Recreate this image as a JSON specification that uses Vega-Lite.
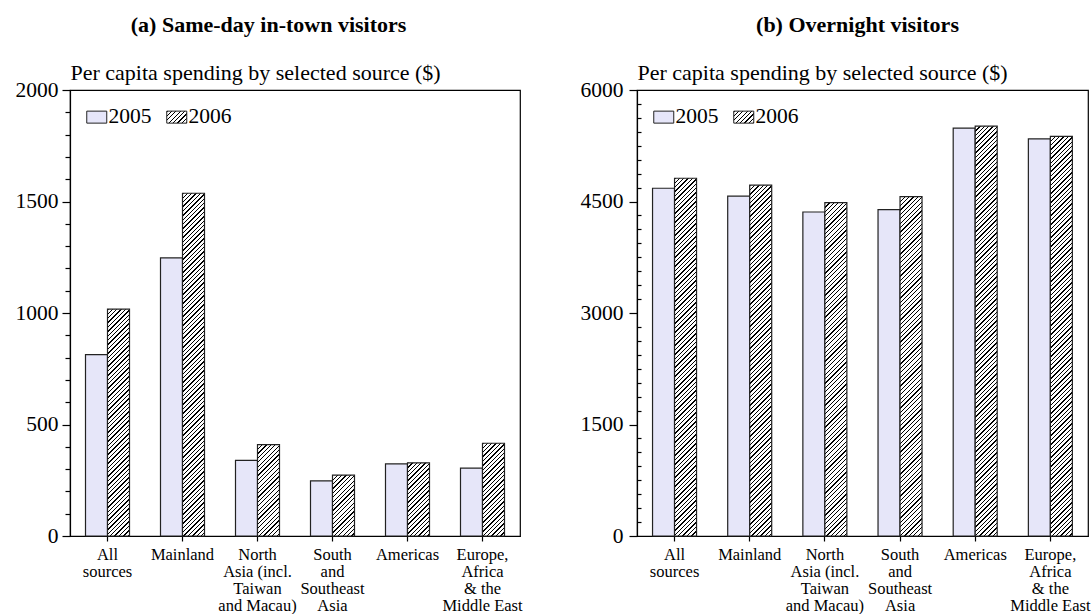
{
  "$schema": "https://vega.github.io/schema/vega-lite/v6.json",
  "padding": {"left": 14, "top": 13, "right": 2, "bottom": 0},
  "params": [
    {"name": "hatch", "value": [
{"offset":0,"color":"#000"},{"offset":0.003,"color":"#000"},{"offset":0.003,"color":"#fff"},{"offset":0.01,"color":"#fff"},
{"offset":0.01,"color":"#000"},{"offset":0.013,"color":"#000"},{"offset":0.013,"color":"#fff"},{"offset":0.02,"color":"#fff"},
{"offset":0.02,"color":"#000"},{"offset":0.023,"color":"#000"},{"offset":0.023,"color":"#fff"},{"offset":0.03,"color":"#fff"},
{"offset":0.03,"color":"#000"},{"offset":0.033,"color":"#000"},{"offset":0.033,"color":"#fff"},{"offset":0.04,"color":"#fff"},
{"offset":0.04,"color":"#000"},{"offset":0.043,"color":"#000"},{"offset":0.043,"color":"#fff"},{"offset":0.05,"color":"#fff"},
{"offset":0.05,"color":"#000"},{"offset":0.053,"color":"#000"},{"offset":0.053,"color":"#fff"},{"offset":0.06,"color":"#fff"},
{"offset":0.06,"color":"#000"},{"offset":0.063,"color":"#000"},{"offset":0.063,"color":"#fff"},{"offset":0.07,"color":"#fff"},
{"offset":0.07,"color":"#000"},{"offset":0.073,"color":"#000"},{"offset":0.073,"color":"#fff"},{"offset":0.08,"color":"#fff"},
{"offset":0.08,"color":"#000"},{"offset":0.083,"color":"#000"},{"offset":0.083,"color":"#fff"},{"offset":0.09,"color":"#fff"},
{"offset":0.09,"color":"#000"},{"offset":0.093,"color":"#000"},{"offset":0.093,"color":"#fff"},{"offset":0.1,"color":"#fff"},
{"offset":0.1,"color":"#000"},{"offset":0.103,"color":"#000"},{"offset":0.103,"color":"#fff"},{"offset":0.11,"color":"#fff"},
{"offset":0.11,"color":"#000"},{"offset":0.113,"color":"#000"},{"offset":0.113,"color":"#fff"},{"offset":0.12,"color":"#fff"},
{"offset":0.12,"color":"#000"},{"offset":0.123,"color":"#000"},{"offset":0.123,"color":"#fff"},{"offset":0.13,"color":"#fff"},
{"offset":0.13,"color":"#000"},{"offset":0.133,"color":"#000"},{"offset":0.133,"color":"#fff"},{"offset":0.14,"color":"#fff"},
{"offset":0.14,"color":"#000"},{"offset":0.143,"color":"#000"},{"offset":0.143,"color":"#fff"},{"offset":0.15,"color":"#fff"},
{"offset":0.15,"color":"#000"},{"offset":0.153,"color":"#000"},{"offset":0.153,"color":"#fff"},{"offset":0.16,"color":"#fff"},
{"offset":0.16,"color":"#000"},{"offset":0.163,"color":"#000"},{"offset":0.163,"color":"#fff"},{"offset":0.17,"color":"#fff"},
{"offset":0.17,"color":"#000"},{"offset":0.173,"color":"#000"},{"offset":0.173,"color":"#fff"},{"offset":0.18,"color":"#fff"},
{"offset":0.18,"color":"#000"},{"offset":0.183,"color":"#000"},{"offset":0.183,"color":"#fff"},{"offset":0.19,"color":"#fff"},
{"offset":0.19,"color":"#000"},{"offset":0.193,"color":"#000"},{"offset":0.193,"color":"#fff"},{"offset":0.2,"color":"#fff"},
{"offset":0.2,"color":"#000"},{"offset":0.203,"color":"#000"},{"offset":0.203,"color":"#fff"},{"offset":0.21,"color":"#fff"},
{"offset":0.21,"color":"#000"},{"offset":0.213,"color":"#000"},{"offset":0.213,"color":"#fff"},{"offset":0.22,"color":"#fff"},
{"offset":0.22,"color":"#000"},{"offset":0.223,"color":"#000"},{"offset":0.223,"color":"#fff"},{"offset":0.23,"color":"#fff"},
{"offset":0.23,"color":"#000"},{"offset":0.233,"color":"#000"},{"offset":0.233,"color":"#fff"},{"offset":0.24,"color":"#fff"},
{"offset":0.24,"color":"#000"},{"offset":0.243,"color":"#000"},{"offset":0.243,"color":"#fff"},{"offset":0.25,"color":"#fff"},
{"offset":0.25,"color":"#000"},{"offset":0.253,"color":"#000"},{"offset":0.253,"color":"#fff"},{"offset":0.26,"color":"#fff"},
{"offset":0.26,"color":"#000"},{"offset":0.263,"color":"#000"},{"offset":0.263,"color":"#fff"},{"offset":0.27,"color":"#fff"},
{"offset":0.27,"color":"#000"},{"offset":0.273,"color":"#000"},{"offset":0.273,"color":"#fff"},{"offset":0.28,"color":"#fff"},
{"offset":0.28,"color":"#000"},{"offset":0.283,"color":"#000"},{"offset":0.283,"color":"#fff"},{"offset":0.29,"color":"#fff"},
{"offset":0.29,"color":"#000"},{"offset":0.293,"color":"#000"},{"offset":0.293,"color":"#fff"},{"offset":0.3,"color":"#fff"},
{"offset":0.3,"color":"#000"},{"offset":0.303,"color":"#000"},{"offset":0.303,"color":"#fff"},{"offset":0.31,"color":"#fff"},
{"offset":0.31,"color":"#000"},{"offset":0.313,"color":"#000"},{"offset":0.313,"color":"#fff"},{"offset":0.32,"color":"#fff"},
{"offset":0.32,"color":"#000"},{"offset":0.323,"color":"#000"},{"offset":0.323,"color":"#fff"},{"offset":0.33,"color":"#fff"},
{"offset":0.33,"color":"#000"},{"offset":0.333,"color":"#000"},{"offset":0.333,"color":"#fff"},{"offset":0.34,"color":"#fff"},
{"offset":0.34,"color":"#000"},{"offset":0.343,"color":"#000"},{"offset":0.343,"color":"#fff"},{"offset":0.35,"color":"#fff"},
{"offset":0.35,"color":"#000"},{"offset":0.353,"color":"#000"},{"offset":0.353,"color":"#fff"},{"offset":0.36,"color":"#fff"},
{"offset":0.36,"color":"#000"},{"offset":0.363,"color":"#000"},{"offset":0.363,"color":"#fff"},{"offset":0.37,"color":"#fff"},
{"offset":0.37,"color":"#000"},{"offset":0.373,"color":"#000"},{"offset":0.373,"color":"#fff"},{"offset":0.38,"color":"#fff"},
{"offset":0.38,"color":"#000"},{"offset":0.383,"color":"#000"},{"offset":0.383,"color":"#fff"},{"offset":0.39,"color":"#fff"},
{"offset":0.39,"color":"#000"},{"offset":0.393,"color":"#000"},{"offset":0.393,"color":"#fff"},{"offset":0.4,"color":"#fff"},
{"offset":0.4,"color":"#000"},{"offset":0.403,"color":"#000"},{"offset":0.403,"color":"#fff"},{"offset":0.41,"color":"#fff"},
{"offset":0.41,"color":"#000"},{"offset":0.413,"color":"#000"},{"offset":0.413,"color":"#fff"},{"offset":0.42,"color":"#fff"},
{"offset":0.42,"color":"#000"},{"offset":0.423,"color":"#000"},{"offset":0.423,"color":"#fff"},{"offset":0.43,"color":"#fff"},
{"offset":0.43,"color":"#000"},{"offset":0.433,"color":"#000"},{"offset":0.433,"color":"#fff"},{"offset":0.44,"color":"#fff"},
{"offset":0.44,"color":"#000"},{"offset":0.443,"color":"#000"},{"offset":0.443,"color":"#fff"},{"offset":0.45,"color":"#fff"},
{"offset":0.45,"color":"#000"},{"offset":0.453,"color":"#000"},{"offset":0.453,"color":"#fff"},{"offset":0.46,"color":"#fff"},
{"offset":0.46,"color":"#000"},{"offset":0.463,"color":"#000"},{"offset":0.463,"color":"#fff"},{"offset":0.47,"color":"#fff"},
{"offset":0.47,"color":"#000"},{"offset":0.473,"color":"#000"},{"offset":0.473,"color":"#fff"},{"offset":0.48,"color":"#fff"},
{"offset":0.48,"color":"#000"},{"offset":0.483,"color":"#000"},{"offset":0.483,"color":"#fff"},{"offset":0.49,"color":"#fff"},
{"offset":0.49,"color":"#000"},{"offset":0.493,"color":"#000"},{"offset":0.493,"color":"#fff"},{"offset":0.5,"color":"#fff"},
{"offset":0.5,"color":"#000"},{"offset":0.503,"color":"#000"},{"offset":0.503,"color":"#fff"},{"offset":0.51,"color":"#fff"},
{"offset":0.51,"color":"#000"},{"offset":0.513,"color":"#000"},{"offset":0.513,"color":"#fff"},{"offset":0.52,"color":"#fff"},
{"offset":0.52,"color":"#000"},{"offset":0.523,"color":"#000"},{"offset":0.523,"color":"#fff"},{"offset":0.53,"color":"#fff"},
{"offset":0.53,"color":"#000"},{"offset":0.533,"color":"#000"},{"offset":0.533,"color":"#fff"},{"offset":0.54,"color":"#fff"},
{"offset":0.54,"color":"#000"},{"offset":0.543,"color":"#000"},{"offset":0.543,"color":"#fff"},{"offset":0.55,"color":"#fff"},
{"offset":0.55,"color":"#000"},{"offset":0.553,"color":"#000"},{"offset":0.553,"color":"#fff"},{"offset":0.56,"color":"#fff"},
{"offset":0.56,"color":"#000"},{"offset":0.563,"color":"#000"},{"offset":0.563,"color":"#fff"},{"offset":0.57,"color":"#fff"},
{"offset":0.57,"color":"#000"},{"offset":0.573,"color":"#000"},{"offset":0.573,"color":"#fff"},{"offset":0.58,"color":"#fff"},
{"offset":0.58,"color":"#000"},{"offset":0.583,"color":"#000"},{"offset":0.583,"color":"#fff"},{"offset":0.59,"color":"#fff"},
{"offset":0.59,"color":"#000"},{"offset":0.593,"color":"#000"},{"offset":0.593,"color":"#fff"},{"offset":0.6,"color":"#fff"},
{"offset":0.6,"color":"#000"},{"offset":0.603,"color":"#000"},{"offset":0.603,"color":"#fff"},{"offset":0.61,"color":"#fff"},
{"offset":0.61,"color":"#000"},{"offset":0.613,"color":"#000"},{"offset":0.613,"color":"#fff"},{"offset":0.62,"color":"#fff"},
{"offset":0.62,"color":"#000"},{"offset":0.623,"color":"#000"},{"offset":0.623,"color":"#fff"},{"offset":0.63,"color":"#fff"},
{"offset":0.63,"color":"#000"},{"offset":0.633,"color":"#000"},{"offset":0.633,"color":"#fff"},{"offset":0.64,"color":"#fff"},
{"offset":0.64,"color":"#000"},{"offset":0.643,"color":"#000"},{"offset":0.643,"color":"#fff"},{"offset":0.65,"color":"#fff"},
{"offset":0.65,"color":"#000"},{"offset":0.653,"color":"#000"},{"offset":0.653,"color":"#fff"},{"offset":0.66,"color":"#fff"},
{"offset":0.66,"color":"#000"},{"offset":0.663,"color":"#000"},{"offset":0.663,"color":"#fff"},{"offset":0.67,"color":"#fff"},
{"offset":0.67,"color":"#000"},{"offset":0.673,"color":"#000"},{"offset":0.673,"color":"#fff"},{"offset":0.68,"color":"#fff"},
{"offset":0.68,"color":"#000"},{"offset":0.683,"color":"#000"},{"offset":0.683,"color":"#fff"},{"offset":0.69,"color":"#fff"},
{"offset":0.69,"color":"#000"},{"offset":0.693,"color":"#000"},{"offset":0.693,"color":"#fff"},{"offset":0.7,"color":"#fff"},
{"offset":0.7,"color":"#000"},{"offset":0.703,"color":"#000"},{"offset":0.703,"color":"#fff"},{"offset":0.71,"color":"#fff"},
{"offset":0.71,"color":"#000"},{"offset":0.713,"color":"#000"},{"offset":0.713,"color":"#fff"},{"offset":0.72,"color":"#fff"},
{"offset":0.72,"color":"#000"},{"offset":0.723,"color":"#000"},{"offset":0.723,"color":"#fff"},{"offset":0.73,"color":"#fff"},
{"offset":0.73,"color":"#000"},{"offset":0.733,"color":"#000"},{"offset":0.733,"color":"#fff"},{"offset":0.74,"color":"#fff"},
{"offset":0.74,"color":"#000"},{"offset":0.743,"color":"#000"},{"offset":0.743,"color":"#fff"},{"offset":0.75,"color":"#fff"},
{"offset":0.75,"color":"#000"},{"offset":0.753,"color":"#000"},{"offset":0.753,"color":"#fff"},{"offset":0.76,"color":"#fff"},
{"offset":0.76,"color":"#000"},{"offset":0.763,"color":"#000"},{"offset":0.763,"color":"#fff"},{"offset":0.77,"color":"#fff"},
{"offset":0.77,"color":"#000"},{"offset":0.773,"color":"#000"},{"offset":0.773,"color":"#fff"},{"offset":0.78,"color":"#fff"},
{"offset":0.78,"color":"#000"},{"offset":0.783,"color":"#000"},{"offset":0.783,"color":"#fff"},{"offset":0.79,"color":"#fff"},
{"offset":0.79,"color":"#000"},{"offset":0.793,"color":"#000"},{"offset":0.793,"color":"#fff"},{"offset":0.8,"color":"#fff"},
{"offset":0.8,"color":"#000"},{"offset":0.803,"color":"#000"},{"offset":0.803,"color":"#fff"},{"offset":0.81,"color":"#fff"},
{"offset":0.81,"color":"#000"},{"offset":0.813,"color":"#000"},{"offset":0.813,"color":"#fff"},{"offset":0.82,"color":"#fff"},
{"offset":0.82,"color":"#000"},{"offset":0.823,"color":"#000"},{"offset":0.823,"color":"#fff"},{"offset":0.83,"color":"#fff"},
{"offset":0.83,"color":"#000"},{"offset":0.833,"color":"#000"},{"offset":0.833,"color":"#fff"},{"offset":0.84,"color":"#fff"},
{"offset":0.84,"color":"#000"},{"offset":0.843,"color":"#000"},{"offset":0.843,"color":"#fff"},{"offset":0.85,"color":"#fff"},
{"offset":0.85,"color":"#000"},{"offset":0.853,"color":"#000"},{"offset":0.853,"color":"#fff"},{"offset":0.86,"color":"#fff"},
{"offset":0.86,"color":"#000"},{"offset":0.863,"color":"#000"},{"offset":0.863,"color":"#fff"},{"offset":0.87,"color":"#fff"},
{"offset":0.87,"color":"#000"},{"offset":0.873,"color":"#000"},{"offset":0.873,"color":"#fff"},{"offset":0.88,"color":"#fff"},
{"offset":0.88,"color":"#000"},{"offset":0.883,"color":"#000"},{"offset":0.883,"color":"#fff"},{"offset":0.89,"color":"#fff"},
{"offset":0.89,"color":"#000"},{"offset":0.893,"color":"#000"},{"offset":0.893,"color":"#fff"},{"offset":0.9,"color":"#fff"},
{"offset":0.9,"color":"#000"},{"offset":0.903,"color":"#000"},{"offset":0.903,"color":"#fff"},{"offset":0.91,"color":"#fff"},
{"offset":0.91,"color":"#000"},{"offset":0.913,"color":"#000"},{"offset":0.913,"color":"#fff"},{"offset":0.92,"color":"#fff"},
{"offset":0.92,"color":"#000"},{"offset":0.923,"color":"#000"},{"offset":0.923,"color":"#fff"},{"offset":0.93,"color":"#fff"},
{"offset":0.93,"color":"#000"},{"offset":0.933,"color":"#000"},{"offset":0.933,"color":"#fff"},{"offset":0.94,"color":"#fff"},
{"offset":0.94,"color":"#000"},{"offset":0.943,"color":"#000"},{"offset":0.943,"color":"#fff"},{"offset":0.95,"color":"#fff"},
{"offset":0.95,"color":"#000"},{"offset":0.953,"color":"#000"},{"offset":0.953,"color":"#fff"},{"offset":0.96,"color":"#fff"},
{"offset":0.96,"color":"#000"},{"offset":0.963,"color":"#000"},{"offset":0.963,"color":"#fff"},{"offset":0.97,"color":"#fff"},
{"offset":0.97,"color":"#000"},{"offset":0.973,"color":"#000"},{"offset":0.973,"color":"#fff"},{"offset":0.98,"color":"#fff"},
{"offset":0.98,"color":"#000"},{"offset":0.983,"color":"#000"},{"offset":0.983,"color":"#fff"},{"offset":0.99,"color":"#fff"},
{"offset":0.99,"color":"#000"},{"offset":0.993,"color":"#000"},{"offset":0.993,"color":"#fff"},{"offset":1,"color":"#fff"}
    ]}
  ],
  "config": {
    "font": "Liberation Serif",
    "view": {"stroke": "#000", "strokeWidth": 1.2},
    "axis": {"domainColor": "#000", "tickColor": "#000", "labelColor": "#000", "titleColor": "#000", "grid": false, "labelFont": "Liberation Serif", "titleFont": "Liberation Serif", "domainWidth": 1.2, "tickWidth": 1.2},
    "title": {"font": "Liberation Serif", "fontSize": 22, "fontWeight": "bold", "color": "#000"},
    "legend": {"labelFont": "Liberation Serif", "labelColor": "#000"}
  },
  "resolve": {"scale": {"fill": "independent"}, "legend": {"fill": "independent"}},
  "spacing": 56,
  "datasets": {
    "sameday": [
      {"region": "All sources", "year": "2005", "v": 813},
      {"region": "All sources", "year": "2006", "v": 1017},
      {"region": "Mainland", "year": "2005", "v": 1247},
      {"region": "Mainland", "year": "2006", "v": 1537},
      {"region": "North Asia (incl. Taiwan and Macau)", "year": "2005", "v": 339},
      {"region": "North Asia (incl. Taiwan and Macau)", "year": "2006", "v": 410},
      {"region": "South and Southeast Asia", "year": "2005", "v": 247},
      {"region": "South and Southeast Asia", "year": "2006", "v": 273},
      {"region": "Americas", "year": "2005", "v": 323},
      {"region": "Americas", "year": "2006", "v": 328},
      {"region": "Europe, Africa & the Middle East", "year": "2005", "v": 304},
      {"region": "Europe, Africa & the Middle East", "year": "2006", "v": 416}
    ],
    "overnight": [
      {"region": "All sources", "year": "2005", "v": 4678},
      {"region": "All sources", "year": "2006", "v": 4813},
      {"region": "Mainland", "year": "2005", "v": 4571},
      {"region": "Mainland", "year": "2006", "v": 4719},
      {"region": "North Asia (incl. Taiwan and Macau)", "year": "2005", "v": 4359},
      {"region": "North Asia (incl. Taiwan and Macau)", "year": "2006", "v": 4486},
      {"region": "South and Southeast Asia", "year": "2005", "v": 4391},
      {"region": "South and Southeast Asia", "year": "2006", "v": 4566},
      {"region": "Americas", "year": "2005", "v": 5487},
      {"region": "Americas", "year": "2006", "v": 5514},
      {"region": "Europe, Africa & the Middle East", "year": "2005", "v": 5343},
      {"region": "Europe, Africa & the Middle East", "year": "2006", "v": 5376}
    ]
  },
  "hconcat": [
    {
      "width": 450,
      "height": 446,
      "data": {"name": "sameday"},
      "title": {"text": "(a) Same-day in-town visitors", "anchor": "middle", "frame": "bounds", "offset": 7, "baseline": "alphabetic"},
      "mark": {"type": "bar", "stroke": "#222", "strokeWidth": 1.2},
      "encoding": {
        "x": {
          "field": "region", "type": "nominal", "sort": null,
          "scale": {"paddingInner": 0.4133, "paddingOuter": 0.2067},
          "axis": {"title": null, "labelAngle": 0, "labelFontSize": 16.5, "labelLineHeight": 17.2, "tickSize": 5, "labelPadding": 5, "labelLimit": 0,
            "labelExpr": "datum.value == 'All sources' ? ['All','sources'] : datum.value == 'North Asia (incl. Taiwan and Macau)' ? ['North','Asia (incl.','Taiwan','and Macau)'] : datum.value == 'South and Southeast Asia' ? ['South','and','Southeast','Asia'] : datum.value == 'Europe, Africa & the Middle East' ? ['Europe,','Africa','& the','Middle East'] : datum.label"}
        },
        "xOffset": {"field": "year", "type": "nominal", "scale": {"paddingInner": 0, "paddingOuter": 0}},
        "y": {
          "field": "v", "type": "quantitative",
          "scale": {"domain": [0, 2000], "nice": false},
          "axis": {
            "title": "Per capita spending by selected source ($)", "titleAngle": 0, "titleAlign": "left", "titleBaseline": "alphabetic", "titleX": 0, "titleY": -11, "titleFontSize": 22, "titleFontWeight": "normal",
            "values": [0,100,200,300,400,500,600,700,800,900,1000,1100,1200,1300,1400,1500,1600,1700,1800,1900,2000],
            "format": "d",
            "labelExpr": "datum.value % 500 === 0 ? datum.label : ''",
            "labelFontSize": 21.5, "labelPadding": 4,
            "tickSize": {"condition": {"test": "datum.value % 500 === 0", "value": 8}, "value": 5}
          }
        },
        "fill": {
          "field": "year", "type": "nominal",
          "scale": {"domain": ["2005", "2006"], "range": ["#e6e6f9", {"expr": "{gradient:'linear',x1:0,y1:0,x2:16.18,y2:9.71,stops:hatch}"}]},
          "condition": {"test": "datum.year === '2006'", "value": {"expr": "{gradient:'linear',x1:0,y1:0,x2:20/(1+pow(datum.v*0.223/22,2)),y2:20*(datum.v*0.223/22)/(1+pow(datum.v*0.223/22,2)),stops:hatch}"}},
          "legend": {
            "title": null, "orient": "top-left", "direction": "horizontal", "offset": 16,
            "symbolType": "M-1,-0.6H1V0.6H-1Z", "symbolSize": 400, "symbolStrokeColor": "#222", "symbolStrokeWidth": 1, "symbolOpacity": 1,
            "labelFontSize": 21.5, "labelOffset": 1, "columnPadding": 12, "padding": 0
          }
        }
      }
    },
    {
      "width": 451,
      "height": 446,
      "data": {"name": "overnight"},
      "title": {"text": "(b) Overnight visitors", "anchor": "middle", "frame": "group", "offset": 7, "baseline": "alphabetic", "dx": -5},
      "mark": {"type": "bar", "stroke": "#222", "strokeWidth": 1.2},
      "encoding": {
        "x": {
          "field": "region", "type": "nominal", "sort": null,
          "scale": {"paddingInner": 0.4133, "paddingOuter": 0.2067},
          "axis": {"title": null, "labelAngle": 0, "labelFontSize": 16.5, "labelLineHeight": 17.2, "tickSize": 5, "labelPadding": 5, "labelLimit": 0,
            "labelExpr": "datum.value == 'All sources' ? ['All','sources'] : datum.value == 'North Asia (incl. Taiwan and Macau)' ? ['North','Asia (incl.','Taiwan','and Macau)'] : datum.value == 'South and Southeast Asia' ? ['South','and','Southeast','Asia'] : datum.value == 'Europe, Africa & the Middle East' ? ['Europe,','Africa','& the','Middle East'] : datum.label"}
        },
        "xOffset": {"field": "year", "type": "nominal", "scale": {"paddingInner": 0, "paddingOuter": 0}},
        "y": {
          "field": "v", "type": "quantitative",
          "scale": {"domain": [0, 6000], "nice": false},
          "axis": {
            "title": "Per capita spending by selected source ($)", "titleAngle": 0, "titleAlign": "left", "titleBaseline": "alphabetic", "titleX": 0, "titleY": -11, "titleFontSize": 22, "titleFontWeight": "normal",
            "values": [0,187.5,375,562.5,750,937.5,1125,1312.5,1500,1687.5,1875,2062.5,2250,2437.5,2625,2812.5,3000,3187.5,3375,3562.5,3750,3937.5,4125,4312.5,4500,4687.5,4875,5062.5,5250,5437.5,5625,5812.5,6000],
            "format": "d",
            "labelExpr": "datum.value % 1500 === 0 ? datum.label : ''",
            "labelFontSize": 21.5, "labelPadding": 6,
            "tickSize": {"condition": {"test": "datum.value % 1500 === 0", "value": 8}, "value": -4}
          }
        },
        "fill": {
          "field": "year", "type": "nominal",
          "scale": {"domain": ["2005", "2006"], "range": ["#e6e6f9", {"expr": "{gradient:'linear',x1:0,y1:0,x2:16.18,y2:9.71,stops:hatch}"}]},
          "condition": {"test": "datum.year === '2006'", "value": {"expr": "{gradient:'linear',x1:0,y1:0,x2:20/(1+pow(datum.v*0.0743333/22,2)),y2:20*(datum.v*0.0743333/22)/(1+pow(datum.v*0.0743333/22,2)),stops:hatch}"}},
          "legend": {
            "title": null, "orient": "top-left", "direction": "horizontal", "offset": 16,
            "symbolType": "M-1,-0.6H1V0.6H-1Z", "symbolSize": 400, "symbolStrokeColor": "#222", "symbolStrokeWidth": 1, "symbolOpacity": 1,
            "labelFontSize": 21.5, "labelOffset": 1, "columnPadding": 12, "padding": 0
          }
        }
      }
    }
  ]
}
